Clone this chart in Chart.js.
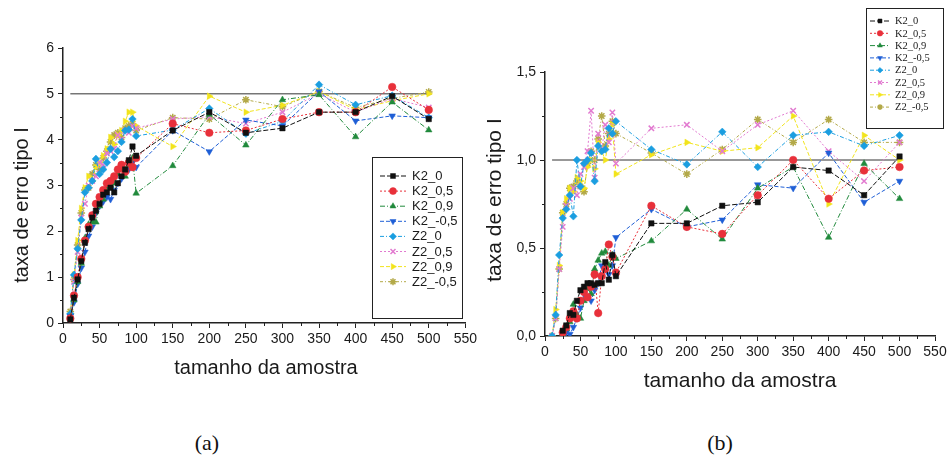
<!DOCTYPE html>
<html><head><meta charset="utf-8">
<script src="https://cdn.jsdelivr.net/npm/chart.js@4.4.1/dist/chart.umd.min.js"></script>
<style>
body{margin:0;background:#fff;width:951px;height:460px;position:relative;overflow:hidden}
#ca{position:absolute;left:0;top:0}
#cb{position:absolute;left:480px;top:0}
.cap{position:absolute;top:430px;font-family:"Liberation Serif",serif;font-size:22px;color:#111;width:60px;text-align:center}
</style></head>
<body>
<canvas id="ca" width="480" height="400"></canvas>
<canvas id="cb" width="471" height="400"></canvas>
<div class="cap" style="left:177px">(a)</div>
<div class="cap" style="left:690px">(b)</div>
<script>
// ---------- data ----------
const sampleSizes = [10,15,20,25,30,35,40,45,50,55,60,65,70,75,80,85,90,95,100,150,200,250,300,350,400,450,500];
const seriesNames = ['K2_0','K2_0,5','K2_0,9','K2_-0,5','Z2_0','Z2_0,5','Z2_0,9','Z2_-0,5'];
const xTickValues = [0,50,100,150,200,250,300,350,400,450,500,550];
const yTickValuesA = [0,1,2,3,4,5,6];
const yTickValuesB = [0,0.5,1.0,1.5];
const yTickLabelsB = ['0,0','0,5','1,0','1,5'];
const refLineX = [10,500];
const refLineA = [5,5];
const refLineB = [1,1];

// panel (a)
const a_K2_0   = [0.08,0.55,0.95,1.35,1.75,2.05,2.30,2.45,2.60,2.80,2.85,2.95,2.85,3.05,3.20,3.35,3.55,3.85,3.65,4.20,4.60,4.15,4.25,4.60,4.60,4.95,4.45];
const a_K2_05  = [0.10,0.60,1.00,1.40,1.80,2.10,2.35,2.60,2.75,2.90,3.05,3.10,3.20,3.35,3.45,3.30,3.50,3.40,3.60,4.35,4.15,4.20,4.45,4.60,4.60,5.15,4.65];
const a_K2_09  = [0.12,0.50,0.90,1.30,1.85,2.15,2.20,2.20,2.55,2.70,2.95,3.00,3.05,3.25,3.35,3.20,3.45,3.60,2.83,3.43,4.55,3.88,4.87,4.98,4.06,4.82,4.21];
const a_K2_m05 = [0.15,0.45,0.85,1.20,1.55,1.90,2.10,2.40,2.55,2.65,2.75,2.70,2.90,3.05,3.15,3.30,3.35,3.50,3.40,4.20,3.74,4.43,4.30,5.05,4.41,4.52,4.48];
const a_Z2_0   = [0.20,1.05,1.62,2.25,2.85,2.95,3.10,3.58,3.25,3.35,3.50,3.80,3.62,3.75,3.95,4.20,4.22,4.45,4.08,4.21,4.68,4.13,4.40,5.20,4.76,4.96,4.48];
const a_Z2_05  = [0.15,0.90,1.55,2.30,2.60,3.00,3.10,3.20,3.50,3.45,3.70,3.75,3.80,4.10,4.00,4.20,4.15,4.30,4.25,4.45,4.50,4.35,4.60,5.00,4.60,4.90,4.70];
const a_Z2_09  = [0.20,1.05,1.80,2.50,2.95,3.20,3.10,3.40,3.50,3.65,3.80,4.05,3.90,4.10,4.20,4.40,4.60,4.60,4.30,3.85,4.95,4.60,4.75,5.05,4.65,4.85,5.00];
const a_Z2_m05 = [0.25,0.95,1.70,2.40,2.90,2.95,3.25,3.45,3.35,3.60,3.75,3.95,4.10,4.15,4.05,4.25,4.30,4.35,4.20,4.48,4.45,4.87,4.72,5.05,4.70,4.90,5.04];

// panel (b)
const b_K2_0   = [null,null,null,0.03,0.06,0.13,0.12,0.20,0.26,0.28,0.30,0.30,0.29,0.30,0.30,0.42,0.32,0.46,0.34,0.64,0.64,0.74,0.76,0.96,0.94,0.80,1.02];
const b_K2_05  = [null,null,null,0.02,0.05,0.10,0.14,0.10,0.20,0.25,0.22,0.28,0.35,0.13,0.34,0.38,0.52,0.45,0.36,0.74,0.62,0.58,0.80,1.00,0.78,0.94,0.96];
const b_K2_09  = [null,null,null,0.01,0.04,0.08,0.18,0.12,0.10,0.20,0.27,0.24,0.38,0.43,0.47,0.48,0.40,0.46,0.44,0.54,0.72,0.55,0.84,0.96,0.56,0.98,0.78];
const b_K2_m05 = [null,null,null,0.00,0.02,0.01,0.05,0.10,0.16,0.24,0.22,0.20,0.26,0.30,0.40,0.38,0.35,0.40,0.56,0.72,0.62,0.66,0.86,0.84,1.04,0.76,0.88];
const b_Z2_0   = [0.00,0.12,0.46,0.67,0.72,0.80,0.68,1.00,0.85,0.98,1.00,1.04,0.88,1.08,1.05,1.06,1.18,1.15,1.22,1.06,0.975,1.16,0.96,1.14,1.16,1.08,1.14];
const b_Z2_05  = [0.00,0.10,0.38,0.62,0.74,0.78,0.84,0.80,0.92,0.96,1.05,1.28,0.90,1.15,1.06,1.20,1.10,1.27,0.98,1.18,1.20,1.05,1.20,1.28,1.05,0.88,1.10];
const b_Z2_09  = [0.00,0.15,0.40,0.70,0.78,0.84,0.82,0.90,0.88,0.84,0.96,1.00,0.95,1.10,1.05,1.00,1.12,1.20,0.92,1.03,1.10,1.05,1.07,1.25,0.75,1.14,1.00];
const b_Z2_m05 = [0.00,0.10,0.38,0.70,0.75,0.84,0.85,0.88,0.85,0.82,0.98,1.05,1.00,1.12,1.25,1.08,1.15,1.22,1.15,1.04,0.92,1.06,1.23,1.10,1.23,1.10,1.10];

const panelA = [a_K2_0,a_K2_05,a_K2_09,a_K2_m05,a_Z2_0,a_Z2_05,a_Z2_09,a_Z2_m05];
const panelB = [b_K2_0,b_K2_05,b_K2_09,b_K2_m05,b_Z2_0,b_Z2_05,b_Z2_09,b_Z2_m05];

// ---------- styles ----------
const seriesStyles = [
  {color:'#111111', point:'rect',     rot:0,   dash:[5,2]},
  {color:'#e8303a', point:'circle',   rot:0,   dash:[2,2]},
  {color:'#218a3c', point:'triangle', rot:0,   dash:[5,2,1,2]},
  {color:'#1f5fd6', point:'triangle', rot:180, dash:[4,2]},
  {color:'#1b9ee0', point:'rectRot',  rot:0,   dash:[4,2,1,2]},
  {color:'#e27ad0', point:'crossRot', rot:0,   dash:[2,2]},
  {color:'#f2e41c', point:'triangle', rot:90,  dash:[4,2]},
  {color:'#b3a948', point:'star',     rot:0,   dash:[3,2,1,2]}
];

function buildDatasets(values, refY, radius) {
  const ds = values.map((arr, i) => {
    const st = seriesStyles[i];
    return {
      label: seriesNames[i],
      data: sampleSizes.map((x, j) => ({x: x, y: arr[j]})),
      borderColor: st.color, backgroundColor: st.color,
      borderWidth: 1, borderDash: st.dash,
      pointStyle: st.point, pointRotation: st.rot,
      pointRadius: radius,
      pointBorderWidth: st.point === 'crossRot' || st.point === 'star' ? 1.5 : 0.5,
      pointBorderColor: st.color,
      spanGaps: false, tension: 0, isSeries: true
    };
  });
  ds.push({
    label: 'ref', data: refLineX.map((x, j) => ({x: x, y: refY[j]})),
    borderColor: '#333', borderWidth: 1, pointRadius: 0, borderDash: [], isSeries: false, order: 10
  });
  return ds;
}

// ---------- plugins ----------
const decorPlugin = {
  id: 'decor',
  afterDraw(chart, args, o) {
    const ctx = chart.ctx, ca = chart.chartArea;
    const xs = chart.scales.x, ys = chart.scales.y;
    ctx.save();
    ctx.strokeStyle = '#222'; ctx.lineWidth = 1;
    for (let v = o.xMinor; v < xs.max; v += o.xMinor * 2) {
      const px = Math.round(xs.getPixelForValue(v)) + 0.5;
      ctx.beginPath(); ctx.moveTo(px, ca.bottom); ctx.lineTo(px, ca.bottom + 3); ctx.stroke();
    }
    for (let v = o.yMinor; v < ys.max; v += o.yMinor * 2) {
      const py = Math.round(ys.getPixelForValue(v)) + 0.5;
      ctx.beginPath(); ctx.moveTo(ca.left, py); ctx.lineTo(ca.left - 3, py); ctx.stroke();
    }
    ctx.fillStyle = '#1a1a1a';
    ctx.font = o.titleFont;
    ctx.textAlign = 'center'; ctx.textBaseline = 'middle';
    ctx.fillText(o.xTitle, o.xTitlePos[0], o.xTitlePos[1]);
    ctx.save();
    ctx.translate(o.yTitlePos[0], o.yTitlePos[1]);
    ctx.rotate(-Math.PI / 2);
    ctx.fillText(o.yTitle, 0, 0);
    ctx.restore();
    const L = o.legend;
    ctx.strokeStyle = '#222'; ctx.lineWidth = 1;
    ctx.strokeRect(L.box[0] + 0.5, L.box[1] + 0.5, L.box[2], L.box[3]);
    ctx.font = L.font; ctx.textAlign = 'left'; ctx.textBaseline = 'middle';
    const series = chart.data.datasets.filter(d => d.isSeries);
    series.forEach((d, i) => {
      const y = L.rowY + i * L.rowGap;
      ctx.save();
      ctx.strokeStyle = d.borderColor; ctx.lineWidth = 1; ctx.setLineDash(d.borderDash);
      ctx.beginPath(); ctx.moveTo(L.lineX[0], y); ctx.lineTo(L.lineX[1], y); ctx.stroke();
      ctx.setLineDash([]);
      ctx.fillStyle = d.backgroundColor; ctx.strokeStyle = d.borderColor;
      ctx.lineWidth = d.pointBorderWidth;
      Chart.helpers.drawPoint(ctx, {pointStyle: d.pointStyle, rotation: d.pointRotation, radius: L.radius, borderWidth: d.pointBorderWidth}, (L.lineX[0] + L.lineX[1]) / 2, y);
      ctx.restore();
      ctx.fillStyle = '#1a1a1a';
      ctx.fillText(d.label, L.textX, y + 0.5);
    });
    ctx.restore();
  }
};

function makeChart(canvasId, values, cfg) {
  const tickFont = {family: 'Liberation Sans', size: 14};
  return new Chart(document.getElementById(canvasId), {
    type: 'line',
    data: {datasets: buildDatasets(values, cfg.ref, cfg.radius)},
    plugins: [decorPlugin],
    options: {
      responsive: false, animation: false, devicePixelRatio: 1,
      layout: {padding: {left: 0, top: cfg.area.top, right: cfg.canvasW - cfg.area.right, bottom: 0}},
      scales: {
        x: {
          type: 'linear', min: 0, max: 550,
          afterFit: s => { s.height = cfg.canvasH - cfg.area.bottom; },
          afterBuildTicks: s => { s.ticks = xTickValues.map(v => ({value: v})); },
          ticks: {font: tickFont, color: '#1a1a1a', padding: 3, maxRotation: 0, autoSkip: false, callback: v => String(v)},
          grid: {drawOnChartArea: false, drawTicks: true, tickLength: 5, color: '#222', lineWidth: 1},
          border: {display: true, color: '#222', width: 1.5}
        },
        y: {
          type: 'linear', min: cfg.yMin, max: cfg.yMax,
          afterFit: s => { s.width = cfg.area.left; },
          afterBuildTicks: s => { s.ticks = cfg.yTicks.map(v => ({value: v})); },
          ticks: {font: tickFont, color: '#1a1a1a', padding: 4, autoSkip: false, callback: cfg.yLabel},
          grid: {drawOnChartArea: false, drawTicks: true, tickLength: 5, color: '#222', lineWidth: 1},
          border: {display: true, color: '#222', width: 1.5}
        }
      },
      plugins: {
        legend: {display: false}, tooltip: {enabled: false},
        decor: cfg.decor
      }
    }
  });
}

makeChart('ca', panelA, {
  canvasW: 480, canvasH: 400,
  area: {left: 63, right: 467, top: 48, bottom: 323},
  yMin: 0, yMax: 6, yTicks: yTickValuesA, yLabel: v => String(v),
  ref: refLineA, radius: 3.8,
  decor: {
    xMinor: 25, yMinor: 0.5,
    titleFont: '20px "Liberation Sans"',
    xTitle: 'tamanho da amostra', xTitlePos: [266, 368],
    yTitle: 'taxa de erro tipo I', yTitlePos: [22, 205],
    legend: {box: [372, 157, 90, 161], rowY: 176, rowGap: 15.1, lineX: [380, 406], textX: 412, radius: 3.5, font: '13px "Liberation Sans"'}
  }
});

makeChart('cb', panelB, {
  canvasW: 471, canvasH: 400,
  area: {left: 65, right: 455, top: 72, bottom: 336},
  yMin: 0, yMax: 1.5, yTicks: yTickValuesB,
  yLabel: (v, i) => yTickLabelsB[i],
  ref: refLineB, radius: 3.8,
  decor: {
    xMinor: 25, yMinor: 0.25,
    titleFont: '21px "Liberation Sans"',
    xTitle: 'tamanho da amostra', xTitlePos: [260, 381],
    yTitle: 'taxa de erro tipo I', yTitlePos: [15, 200],
    legend: {box: [386, 8, 77, 120], rowY: 21, rowGap: 12.3, lineX: [390, 410], textX: 415, radius: 2.8, font: '10.5px "Liberation Serif"'}
  }
});
</script>
</body></html>
